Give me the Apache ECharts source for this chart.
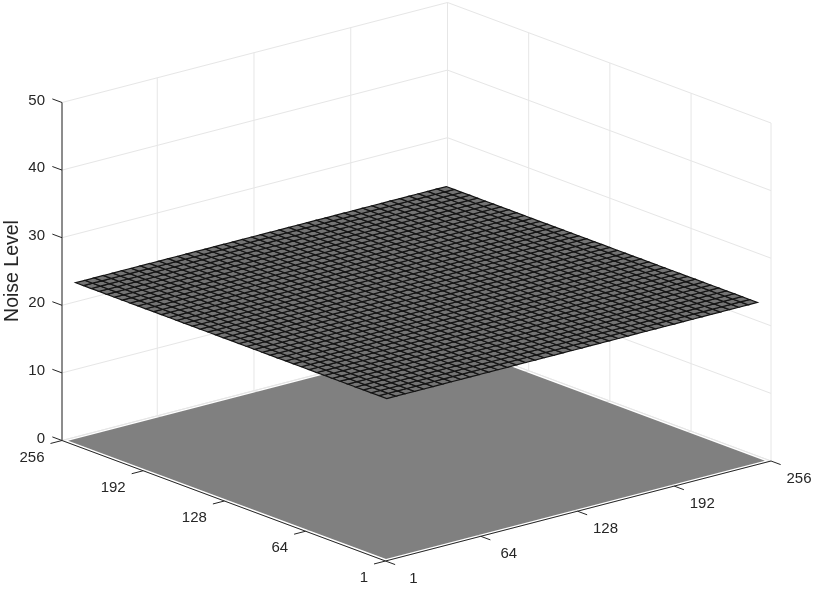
<!DOCTYPE html>
<html>
<head>
<meta charset="utf-8">
<title>Noise Level</title>
<script src="https://cdn.jsdelivr.net/npm/echarts@6/dist/echarts.min.js"></script>
<style>
  html, body { margin: 0; padding: 0; background: #fff; }
  #chart { width: 823px; height: 608px; }
</style>
</head>
<body>
<div id="chart"></div>
<script>
// tick labels
const xTicks = [1, 64, 128, 192, 256]
const yTicks = [1, 64, 128, 192, 256]
const zTicks = [0, 10, 20, 30, 40, 50]

// flat noise surface
const surfaceLines = [
  5.9, 12.03, 18.16, 24.29, 30.42, 36.55, 42.68, 48.81, 54.94, 61.07, 67.2,
  73.33, 79.46, 85.59, 91.72, 97.85, 103.98, 110.11, 116.24, 122.37, 128.5,
  134.63, 140.76, 146.89, 153.02, 159.15, 165.28, 171.41, 177.54, 183.67, 189.8,
  195.93, 202.06, 208.19, 214.32, 220.45, 226.58, 232.71, 238.84, 244.97, 251.1
]
const noiseLevel = 23.4

// grey patch lying on the floor
const floorRange = [3.2, 253.8]
const floorLevel = 0

// orthographic view: screen position of the front corner and of each axis run
const front = [385.5, 561]
const xRun = [385.5, -100]
const yRun = [-323.5, -120.5]
const zRun = [0, -338]
const tickLen = 7.6

function project(x, y, z) {
  const fx = (x - 1) / 255
  const fy = (y - 1) / 255
  const fz = z / 50
  return [
    front[0] + fx * xRun[0] + fy * yRun[0] + fz * zRun[0],
    front[1] + fx * xRun[1] + fy * yRun[1] + fz * zRun[1]
  ]
}

const GRID_COLOR = '#e6e6e6'
const AXIS_COLOR = '#262626'
const TEXT_COLOR = '#262626'
const FONT = '"Liberation Sans", Arial, sans-serif'

// segments on the two back walls and the floor, [x0,y0,z0,x1,y1,z1]
const gridSegments = []
zTicks.forEach(z => {
  gridSegments.push([1, 256, z, 256, 256, z])
  gridSegments.push([256, 1, z, 256, 256, z])
})
xTicks.forEach(x => {
  gridSegments.push([x, 256, 0, x, 256, 50])
  gridSegments.push([x, 1, 0, x, 256, 0])
})
yTicks.forEach(y => {
  gridSegments.push([256, y, 0, 256, y, 50])
  gridSegments.push([1, y, 0, 256, y, 0])
})

const axisSegments = [
  [1, 1, 0, 256, 1, 0],
  [1, 1, 0, 1, 256, 0],
  [1, 256, 0, 1, 256, 50]
]
// ticks point outwards, away from the box
xTicks.forEach(x => axisSegments.push([x, 1, 0, x, 1 - tickLen, 0]))
yTicks.forEach(y => axisSegments.push([1, y, 0, 1 - tickLen, y, 0]))
zTicks.forEach(z => axisSegments.push([1, 256, z, 1, 256 + tickLen, z]))

// [x0, x1, y0, y1, z]
const surfaceCells = []
for (let i = 0; i < surfaceLines.length - 1; i++) {
  for (let j = 0; j < surfaceLines.length - 1; j++) {
    surfaceCells.push([surfaceLines[i], surfaceLines[i + 1], surfaceLines[j], surfaceLines[j + 1], noiseLevel])
  }
}

// [x, y, z, text, dx, dy, align]
const tickLabels = []
xTicks.forEach(x => tickLabels.push([x, 1, 0, String(x), 28, 17.5, 'center']))
yTicks.forEach(y => tickLabels.push([1, y, 0, String(y), -17.5, 17, 'right']))
zTicks.forEach(z => tickLabels.push([1, 256, z, String(z), -17, -2, 'right']))

function quad(x0, x1, y0, y1, z, api) {
  return [
    api.coord(project(x0, y0, z)),
    api.coord(project(x1, y0, z)),
    api.coord(project(x1, y1, z)),
    api.coord(project(x0, y1, z))
  ]
}

function segmentRenderer(color) {
  return function (params, api) {
    const a = api.coord(project(api.value(0), api.value(1), api.value(2)))
    const b = api.coord(project(api.value(3), api.value(4), api.value(5)))
    return {
      type: 'line',
      shape: { x1: a[0], y1: a[1], x2: b[0], y2: b[1] },
      style: { stroke: color, lineWidth: 1 }
    }
  }
}

const chart = echarts.init(document.getElementById('chart'), null, { renderer: 'canvas' })

chart.setOption({
  animation: false,
  backgroundColor: '#fff',
  grid: { left: 0, right: 0, top: 0, bottom: 0 },
  xAxis: { type: 'value', min: 0, max: 823, show: false },
  yAxis: { type: 'value', min: 0, max: 608, inverse: true, show: false },
  series: [
    {
      name: 'walls',
      type: 'custom',
      silent: true,
      renderItem: segmentRenderer(GRID_COLOR),
      data: gridSegments
    },
    {
      name: 'floor',
      type: 'custom',
      silent: true,
      renderItem: function (params, api) {
        return {
          type: 'polygon',
          shape: { points: quad(api.value(0), api.value(1), api.value(0), api.value(1), api.value(2), api) },
          style: { fill: '#808080' }
        }
      },
      data: [[floorRange[0], floorRange[1], floorLevel]]
    },
    {
      name: 'axes',
      type: 'custom',
      silent: true,
      renderItem: segmentRenderer(AXIS_COLOR),
      data: axisSegments
    },
    {
      name: 'Noise Level',
      type: 'custom',
      silent: true,
      renderItem: function (params, api) {
        return {
          type: 'polygon',
          shape: { points: quad(api.value(0), api.value(1), api.value(2), api.value(3), api.value(4), api) },
          style: { fill: '#747474', stroke: '#141414', lineWidth: 1.2 }
        }
      },
      data: surfaceCells
    },
    {
      name: 'labels',
      type: 'custom',
      silent: true,
      renderItem: function (params, api) {
        const p = api.coord(project(api.value(0), api.value(1), api.value(2)))
        const item = tickLabels[params.dataIndex]
        return {
          type: 'text',
          x: p[0] + item[4],
          y: p[1] + item[5],
          style: {
            text: item[3],
            fill: TEXT_COLOR,
            font: '15px ' + FONT,
            textAlign: item[6],
            textVerticalAlign: 'middle'
          }
        }
      },
      data: tickLabels.map(item => item.slice(0, 3))
    },
    {
      name: 'zTitle',
      type: 'custom',
      silent: true,
      renderItem: function (params, api) {
        const p = api.coord([api.value(0), api.value(1)])
        return {
          type: 'text',
          x: p[0],
          y: p[1],
          rotation: Math.PI / 2,
          style: {
            text: 'Noise Level',
            fill: TEXT_COLOR,
            font: '19.5px ' + FONT,
            textAlign: 'center',
            textVerticalAlign: 'middle'
          }
        }
      },
      data: [[13, 271]]
    }
  ]
})
</script>
</body>
</html>
